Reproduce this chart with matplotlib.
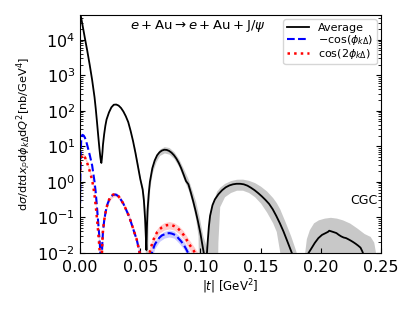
import numpy as np
import matplotlib.pyplot as plt

# |t| grid and values (nb/GeV^4)
t_avg = [0.0, 0.002, 0.004, 0.006, 0.008, 0.010, 0.012, 0.013, 0.014, 0.015, 0.016, 0.0168, 0.0174, 0.0177,
         0.0181, 0.0186, 0.019, 0.020, 0.021, 0.022, 0.024, 0.026, 0.028, 0.030, 0.032, 0.034, 0.036, 0.038,
         0.040, 0.042, 0.044, 0.046, 0.048, 0.050, 0.052, 0.053, 0.054, 0.0546, 0.0551,
         0.0555, 0.056, 0.057, 0.058, 0.060, 0.062, 0.064, 0.066, 0.068, 0.070, 0.072, 0.074, 0.076, 0.078,
         0.080, 0.082, 0.084, 0.086, 0.088, 0.090, 0.092, 0.094, 0.096, 0.098, 0.100, 0.101, 0.102, 0.103, 0.1045,
         0.105, 0.106, 0.107, 0.108, 0.110, 0.112, 0.115, 0.118, 0.121, 0.124, 0.127, 0.130, 0.133, 0.136,
         0.139, 0.142, 0.145, 0.148, 0.151, 0.154, 0.157, 0.160, 0.163, 0.166, 0.169, 0.172, 0.175, 0.177,
         0.189, 0.192, 0.195, 0.198, 0.201, 0.204, 0.206, 0.207, 0.209, 0.211, 0.213, 0.215, 0.217, 0.219,
         0.221, 0.223, 0.225, 0.227, 0.229, 0.231, 0.233, 0.2345, 0.236]
avg = [6.0e4, 2.6e4, 1.1e4, 4.8e3, 1.95e3, 740, 240, 115, 50, 21, 9, 5, 3.6, 3.4,
       4.5, 7, 11, 22, 38, 57, 90, 125, 148, 150, 140, 120, 95, 70,
       48, 27, 14, 6.5, 2.8, 1.2, 0.6, 0.3, 0.09, 0.03, 0.012,
       0.05, 0.15, 0.45, 1.0, 2.4, 4.0, 5.6, 6.8, 7.6, 8.0, 7.9, 7.4, 6.6, 5.6,
       4.5, 3.4, 2.4, 1.6, 1.05, 0.85, 0.5, 0.28, 0.15, 0.075, 0.035, 0.022, 0.014, 0.009, 0.004,
       0.006, 0.02, 0.055, 0.11, 0.22, 0.32, 0.45, 0.58, 0.70, 0.79, 0.85, 0.88, 0.88, 0.85,
       0.78, 0.68, 0.58, 0.48, 0.39, 0.31, 0.24, 0.17, 0.11, 0.068, 0.04, 0.022, 0.012, 0.008,
       0.009, 0.013, 0.019, 0.026, 0.032, 0.036, 0.039, 0.042, 0.040, 0.038, 0.036, 0.032, 0.029, 0.027,
       0.026, 0.024, 0.022, 0.020, 0.018, 0.016, 0.014, 0.011, 0.008]

# grey uncertainty band of the average
t_band = [0.045, 0.048, 0.050, 0.052, 0.053, 0.054, 0.0548, 0.0556, 0.0565, 0.058, 0.060, 0.063, 0.066,
          0.070, 0.074, 0.078, 0.082, 0.086, 0.090, 0.093, 0.096, 0.098, 0.099, 0.102, 0.105, 0.108,
          0.1135, 0.1145, 0.116, 0.120, 0.125, 0.130, 0.135, 0.140, 0.145, 0.150, 0.155, 0.160, 0.163,
          0.166, 0.167, 0.170, 0.175, 0.179, 0.182]
band_hi = [11, 3.3, 1.3, 0.75, 0.42, 0.18, 0.06, 0.08, 0.35, 1.3, 3.0, 5.6, 8.3,
           9.8, 9.2, 7.0, 4.4, 2.3, 1.15, 0.58, 0.28, 0.14, 0.1, 0.03, 0.015, 0.15,
           0.55, 0.6, 0.7, 0.9, 1.08, 1.18, 1.19, 1.1, 0.95, 0.75, 0.55, 0.36, 0.26,
           0.17, 0.14, 0.08, 0.03, 0.012, 0.005]
band_lo = [9, 2.5, 0.95, 0.45, 0.2, 0.05, 1e-4, 1e-4, 0.1, 0.7, 1.8, 3.6, 5.5,
           6.5, 6.0, 4.5, 2.7, 1.2, 0.58, 0.26, 0.09, 0.03, 1e-4, 1e-4, 1e-4, 1e-4,
           1e-4, 0.02, 0.2, 0.38, 0.5, 0.58, 0.58, 0.5, 0.38, 0.25, 0.14, 0.07, 0.04,
           0.01, 1e-4, 1e-4, 1e-4, 1e-4, 1e-4]
t_band2 = [0.1855, 0.188, 0.1905, 0.194, 0.198, 0.203, 0.208, 0.213, 0.218, 0.224, 0.230, 0.236, 0.241, 0.244, 0.247]
band2_hi = [0.005, 0.025, 0.045, 0.07, 0.085, 0.095, 0.1, 0.095, 0.085, 0.069, 0.05, 0.035, 0.029, 0.02, 0.005]

# -cos(phi_kDelta)
t_c1 = [0.0, 0.0003, 0.0006, 0.001, 0.0015, 0.002, 0.003, 0.004, 0.005, 0.006, 0.007, 0.008, 0.009,
        0.010, 0.011, 0.012, 0.013, 0.014, 0.015, 0.016, 0.0168, 0.0174,
        0.0178, 0.0185, 0.019, 0.020, 0.021, 0.022, 0.023, 0.024, 0.025, 0.026, 0.027, 0.028, 0.029,
        0.030, 0.031, 0.032, 0.034, 0.036, 0.038, 0.040, 0.042, 0.044, 0.046, 0.047, 0.048, 0.049,
        0.050, 0.051,
        0.059, 0.060, 0.062, 0.064, 0.066, 0.068, 0.070, 0.072, 0.074, 0.076, 0.078, 0.080, 0.082,
        0.084, 0.086, 0.088, 0.090, 0.091]
c1 = [0.25, 2, 8, 16, 20, 21, 20, 17.5, 14, 10.5, 7.8, 5.7, 4.1,
      2.9, 1.7, 1.0, 0.5, 0.2, 0.075, 0.028, 0.011, 0.004,
      0.004, 0.02, 0.04, 0.08, 0.13, 0.19, 0.25, 0.30, 0.35, 0.39, 0.42, 0.43, 0.44,
      0.43, 0.41, 0.38, 0.31, 0.24, 0.17, 0.12, 0.078, 0.048, 0.030, 0.024, 0.017, 0.012,
      0.008, 0.005,
      0.008, 0.011, 0.017, 0.022, 0.027, 0.031, 0.033, 0.035, 0.036, 0.035, 0.033, 0.030, 0.025,
      0.021, 0.017, 0.013, 0.0095, 0.008]
t_c1b = [0.059, 0.062, 0.066, 0.070, 0.074, 0.078, 0.082, 0.086, 0.090, 0.092]
c1_lo = [0.006, 0.013, 0.021, 0.026, 0.028, 0.026, 0.019, 0.013, 0.007, 0.005]
c1_hi = [0.011, 0.021, 0.033, 0.040, 0.044, 0.041, 0.031, 0.022, 0.013, 0.009]

# cos(2 phi_kDelta)
t_c2 = [0.0, 0.0005, 0.001, 0.0015, 0.002, 0.003, 0.004, 0.005, 0.006, 0.007, 0.008, 0.009, 0.010,
        0.011, 0.012, 0.013, 0.014, 0.015, 0.016, 0.0168,
        0.0178, 0.0185, 0.019, 0.020, 0.021, 0.022, 0.023, 0.024, 0.025, 0.026, 0.027, 0.028, 0.029,
        0.030, 0.031, 0.032, 0.034, 0.036, 0.038, 0.040, 0.042, 0.044, 0.046, 0.047, 0.048, 0.049,
        0.050, 0.051,
        0.057, 0.058, 0.060, 0.062, 0.064, 0.066, 0.068, 0.070, 0.072, 0.074, 0.076, 0.078, 0.080,
        0.082, 0.084, 0.086, 0.088, 0.090, 0.092, 0.094, 0.096, 0.098]
c2 = [2.0, 3.8, 5.0, 5.6, 5.8, 5.5, 4.9, 4.1, 3.3, 2.6, 2.0, 1.5, 1.1,
      0.72, 0.42, 0.21, 0.095, 0.04, 0.015, 0.006,
      0.004, 0.021, 0.042, 0.082, 0.13, 0.19, 0.25, 0.31, 0.36, 0.40, 0.43, 0.44, 0.45,
      0.44, 0.42, 0.39, 0.31, 0.24, 0.17, 0.12, 0.079, 0.049, 0.030, 0.024, 0.017, 0.012,
      0.008, 0.005,
      0.008, 0.011, 0.019, 0.029, 0.038, 0.046, 0.052, 0.057, 0.060, 0.061, 0.060, 0.057, 0.052,
      0.046, 0.039, 0.032, 0.025, 0.019, 0.015, 0.012, 0.0095, 0.007]
t_c2b = [0.0, 0.001, 0.002, 0.004, 0.006, 0.008, 0.010, 0.012, 0.014, 0.015, 0.016, 0.017, 0.0185,
         0.020, 0.022, 0.024, 0.026, 0.028, 0.030, 0.032, 0.034, 0.036, 0.038, 0.040, 0.042, 0.044,
         0.046, 0.048, 0.050, 0.051, 0.0565, 0.058, 0.060, 0.063, 0.066, 0.070, 0.074, 0.078, 0.082,
         0.086, 0.090, 0.094, 0.098, 0.100]
c2_lo = [1.7, 4.4, 5.1, 4.3, 2.9, 1.75, 0.95, 0.36, 0.075, 0.03, 0.008, 1e-4, 0.015,
         0.065, 0.16, 0.26, 0.34, 0.38, 0.38, 0.33, 0.26, 0.2, 0.14, 0.1, 0.064, 0.039,
         0.024, 0.013, 0.006, 0.004, 1e-4, 0.008, 0.014, 0.026, 0.036, 0.044, 0.047, 0.044, 0.035,
         0.024, 0.014, 0.008, 0.005, 1e-4]
c2_hi = [2.4, 5.7, 6.6, 5.6, 3.8, 2.3, 1.27, 0.5, 0.12, 0.055, 0.024, 0.012, 0.03,
         0.1, 0.23, 0.35, 0.45, 0.5, 0.5, 0.44, 0.36, 0.28, 0.2, 0.145, 0.094, 0.059,
         0.037, 0.022, 0.012, 0.009, 0.01, 0.015, 0.025, 0.043, 0.058, 0.071, 0.076, 0.071, 0.058,
         0.041, 0.025, 0.016, 0.01, 0.008]

fig = plt.figure(figsize=(4.15, 3.11), dpi=100)
ax = fig.add_axes([0.193, 0.187, 0.725, 0.765])

ax.fill_between(t_band, band_lo, band_hi, color='#c8c8c8', lw=0)
ax.fill_between(t_band2, 1e-4, band2_hi, color='#c8c8c8', lw=0)
ax.fill_between(t_c2b, c2_lo, c2_hi, color='red', alpha=0.2, lw=0)
ax.fill_between(t_c1b, c1_lo, c1_hi, color='blue', alpha=0.2, lw=0)

ax.plot(t_avg, avg, color='black', lw=1.3, label='Average')
ax.plot(t_c1, c1, color='blue', ls='--', lw=1.5, label=r'$-\cos(\phi_{k\Delta})$')
ax.plot(t_c2, c2, color='red', ls=':', lw=1.8, label=r'$\cos(2\phi_{k\Delta})$')

ax.set_yscale('log')
ax.set_xlim(0, 0.25)
ax.set_ylim(1e-2, 5e4)
ax.set_xticks([0.0, 0.05, 0.10, 0.15, 0.20, 0.25])
ax.xaxis.set_major_formatter(plt.FormatStrFormatter('%.2f'))
ax.tick_params(which='both', direction='in', right=True, labelsize=11.5)
ax.tick_params(axis='x', pad=5)

ax.set_xlabel(r'$|t|$ [GeV$^2$]', fontsize=8.5, labelpad=2)
ax.set_ylabel(r'$\mathrm{d}\sigma/\mathrm{d}t\mathrm{d}x_{\mathbb{P}}\mathrm{d}\phi_{k\Delta}\mathrm{d}Q^2$[nb/GeV$^4$]',
              fontsize=8.2, labelpad=3)
ax.text(0.39, 0.955, r'$e+\mathrm{Au}\rightarrow e+\mathrm{Au}+\mathrm{J}/\psi$', transform=ax.transAxes,
        ha='center', va='center', fontsize=9.5)
ax.text(0.99, 0.22, 'CGC', transform=ax.transAxes, ha='right', va='center', fontsize=9)
ax.legend(loc='upper right', fontsize=8, handlelength=2.0, borderaxespad=0.4,
          labelspacing=0.0, handletextpad=0.8, borderpad=0.3)

fig.savefig('out.png', dpi=100)
